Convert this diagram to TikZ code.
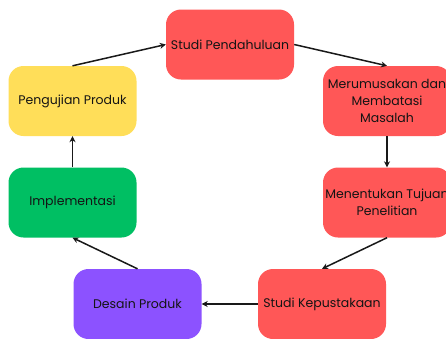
\documentclass[tikz,border=0pt]{standalone}
\usepackage{fontspec}
\setmainfont{Poppins}
\usetikzlibrary{arrows.meta}
\definecolor{cred}{HTML}{FF5757}
\definecolor{cyellow}{HTML}{FFDE59}
\definecolor{cgreen}{HTML}{00BF63}
\definecolor{cpurple}{HTML}{8C52FF}
\definecolor{ctext}{HTML}{141414}
\tikzset{
  box/.style={rectangle, rounded corners=15pt, minimum width=128pt, minimum height=70pt,
    inner sep=0pt, align=center, text=ctext, font=\fontsize{12.5}{17}\selectfont},
  arr/.style={-{Stealth[length=6pt,width=6pt]}, line width=1.5pt, draw=black!90}
}
\begin{document}
\begin{tikzpicture}[x=1pt,y=-1pt]
\useasboundingbox (0,0) rectangle (446,338);
\clip (0,0) rectangle (446,338);
\fill[white] (0,0) rectangle (446,338);
\node[box, fill=cred] (sp) at (230,44.5) {Studi Pendahuluan};
\node[box, fill=cred] (mm) at (387,101) {Merumusakan dan\\Membatasi\\Masalah};
\node[box, fill=cyellow] (pp) at (72.5,101) {Pengujian Produk};
\node[box, fill=cgreen] (im) at (72.5,202.5) {Implementasi};
\node[box, fill=cred] (mt) at (387,202.5) {Menentukan Tujuan\\Penelitian};
\node[box, fill=cpurple] (dp) at (137.5,304) {Desain Produk};
\node[box, fill=cred] (sk) at (322,304) {Studi Kepustakaan};
\draw[arr] (pp.north) -- (sp.west);
\draw[arr] (sp.east) -- (mm.north);
\draw[arr] (mm.south) -- (mt.north);
\draw[arr] (mt.south) -- (sk.north);
\draw[arr] (sk.west) -- (dp.east);
\draw[arr] (dp.north) -- (im.south);
\draw[arr] (im.north) -- (pp.south);
\end{tikzpicture}
\end{document}
